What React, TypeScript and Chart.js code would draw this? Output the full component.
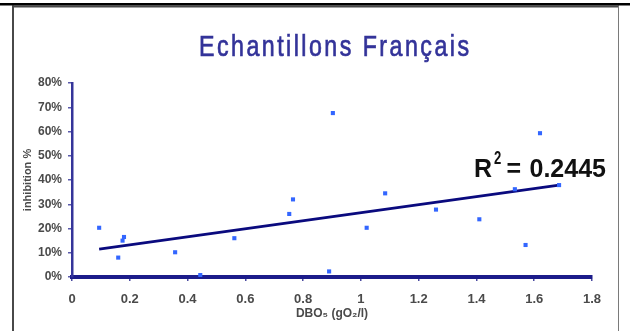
import React, { useEffect, useRef } from "react";
import { Chart, registerables } from "chart.js";

Chart.register(...registerables);

const chartTitle = "Echantillons Français";
const xAxisTitle = "DBO₅ (gO₂/l)";
const yAxisTitle = "inhibition %";
const r2Base = "R";
const r2Exp = "2";
const r2Eq = "=";
const r2Value = "0.2445";

const dboValues = [0.094, 0.18, 0.175, 0.16, 0.357, 0.444, 0.562, 0.752, 0.765, 0.89, 0.903, 1.02, 1.084, 1.26, 1.41, 1.533, 1.57, 1.62, 1.686];
const inhibitionValues = [0.203, 0.165, 0.15, 0.08, 0.102, 0.008, 0.16, 0.26, 0.32, 0.023, 0.676, 0.203, 0.345, 0.278, 0.238, 0.362, 0.132, 0.593, 0.379];

const trendX = [0.094, 1.686];
const trendY = [0.115, 0.379];

const xTickValues = [0, 0.2, 0.4, 0.6, 0.8, 1, 1.2, 1.4, 1.6, 1.8];
const xTickLabels = ["0", "0.2", "0.4", "0.6", "0.8", "1", "1.2", "1.4", "1.6", "1.8"];
const yTickValues = [0, 0.1, 0.2, 0.3, 0.4, 0.5, 0.6, 0.7, 0.8];
const yTickLabels = ["0%", "10%", "20%", "30%", "40%", "50%", "60%", "70%", "80%"];

const W = 630;
const H = 331;
const SANS = '"Liberation Sans", Arial, sans-serif';

const decorPlugin = {
  id: "decor",
  beforeDraw(chart: any) {
    const ctx = chart.ctx;
    ctx.save();
    ctx.fillStyle = "#ffffff";
    ctx.fillRect(0, 0, W, H);
    ctx.fillStyle = "#484848";
    ctx.fillRect(12, 5.5, 607, 2);
    ctx.fillRect(12, 5.5, 2, H);
    ctx.fillStyle = "#7a7a7a";
    ctx.fillRect(618, 5.5, 1, H);
    ctx.fillStyle = "#000000";
    ctx.fillRect(0, 3, W, 2.5);
    ctx.restore();
  },
  afterDraw(chart: any) {
    const ctx = chart.ctx;
    ctx.save();
    ctx.font = "29px " + SANS;
    ctx.fillStyle = "#333399";
    ctx.strokeStyle = "#333399";
    ctx.lineWidth = 0.7;
    ctx.textBaseline = "alphabetic";
    ctx.textAlign = "left";
    const sx = 0.8;
    const chars = Array.from(chartTitle);
    const widths = chars.map((c) => ctx.measureText(c).width * sx);
    const total = widths.reduce((a, b) => a + b, 0);
    const targetW = 270;
    const gap = (targetW - total) / (chars.length - 1);
    let x = 199;
    chars.forEach((c, i) => {
      ctx.save();
      ctx.translate(x, 56);
      ctx.scale(sx, 1);
      ctx.fillText(c, 0, 0);
      ctx.strokeText(c, 0, 0);
      ctx.restore();
      x += widths[i] + gap;
    });
    ctx.restore();

    ctx.save();
    ctx.fillStyle = "#111111";
    ctx.textAlign = "left";
    ctx.textBaseline = "alphabetic";
    ctx.font = "bold 25px " + SANS;
    ctx.fillText(r2Base, 474, 176.5);
    ctx.save();
    ctx.font = "bold 17.5px " + SANS;
    ctx.translate(494, 164.3);
    ctx.scale(0.75, 1);
    ctx.fillText(r2Exp, 0, 0);
    ctx.restore();
    ctx.font = "bold 25px " + SANS;
    ctx.fillText(r2Eq, 506.5, 176.5);
    ctx.fillText(r2Value, 529.5, 176.5);
    ctx.restore();
  },
};

export default function App() {
  const ref = useRef<HTMLCanvasElement | null>(null);

  useEffect(() => {
    if (!ref.current) return;
    const points = dboValues.map((x, i) => ({ x, y: inhibitionValues[i] }));
    const trend = trendX.map((x, i) => ({ x, y: trendY[i] }));
    const chart = new Chart(ref.current, {
      type: "scatter",
      data: {
        datasets: [
          {
            type: "line",
            data: trend,
            borderColor: "#0a0a7e",
            borderWidth: 2.6,
            pointRadius: 0,
            showLine: true,
            fill: false,
            order: 2,
          } as any,
          {
            data: points,
            pointStyle: "rect",
            pointRadius: 2.9,
            pointBorderWidth: 0,
            backgroundColor: "#3366ff",
            borderColor: "#3366ff",
            order: 1,
          } as any,
        ],
      },
      options: {
        responsive: false,
        animation: false,
        layout: { padding: { left: 0, right: 38, top: 83, bottom: 0 } },
        plugins: {
          legend: { display: false },
          tooltip: { enabled: false },
          title: { display: false },
        },
        scales: {
          x: {
            type: "linear",
            min: 0,
            max: 1.8,
            afterFit: (s: any) => {
              s.height = 54;
            },
            afterBuildTicks: (s: any) => {
              s.ticks = xTickValues.map((v) => ({ value: v }));
            },
            ticks: {
              autoSkip: false,
              maxRotation: 0,
              padding: 11,
              color: "#4a4a4a",
              font: { family: SANS, size: 13, weight: "bold" },
              callback: (v: any) => {
                const i = xTickValues.findIndex((t) => Math.abs(t - Number(v)) < 1e-6);
                return i >= 0 ? xTickLabels[i] : "";
              },
            },
            grid: {
              display: true,
              drawOnChartArea: false,
              drawTicks: true,
              tickLength: 4,
              color: "#4a4aa0",
              lineWidth: 1.5,
            },
            border: { display: true, color: "#1c1c8a", width: 4 },
            title: {
              display: true,
              text: xAxisTitle,
              color: "#4a4a4a",
              font: { family: SANS, size: 12, weight: "bold" },
              padding: { top: 0, bottom: 10 },
            },
          },
          y: {
            type: "linear",
            min: 0,
            max: 0.8,
            afterFit: (s: any) => {
              s.width = 72;
            },
            afterBuildTicks: (s: any) => {
              s.ticks = yTickValues.map((v) => ({ value: v }));
            },
            ticks: {
              autoSkip: false,
              padding: 6,
              color: "#4a4a4a",
              font: { family: SANS, size: 12, weight: "bold" },
              callback: (v: any) => {
                const i = yTickValues.findIndex((t) => Math.abs(t - Number(v)) < 1e-6);
                return i >= 0 ? yTickLabels[i] : "";
              },
            },
            grid: {
              display: true,
              drawOnChartArea: false,
              drawTicks: true,
              tickLength: 4,
              color: "#5a5aaa",
              lineWidth: 1.5,
            },
            border: { display: true, color: "#35359a", width: 2.5 },
            title: {
              display: true,
              text: yAxisTitle,
              color: "#4a4a4a",
              font: { family: SANS, size: 11, weight: "bold" },
              padding: { top: 21, bottom: 0 },
            },
          },
        },
      },
      plugins: [decorPlugin],
    });
    return () => chart.destroy();
  }, []);

  return (
    <div style={{ position: "absolute", left: 0, top: 0, width: W, height: H, background: "#fff" }}>
      <canvas ref={ref} width={W} height={H} style={{ display: "block", width: W, height: H }} />
    </div>
  );
}
